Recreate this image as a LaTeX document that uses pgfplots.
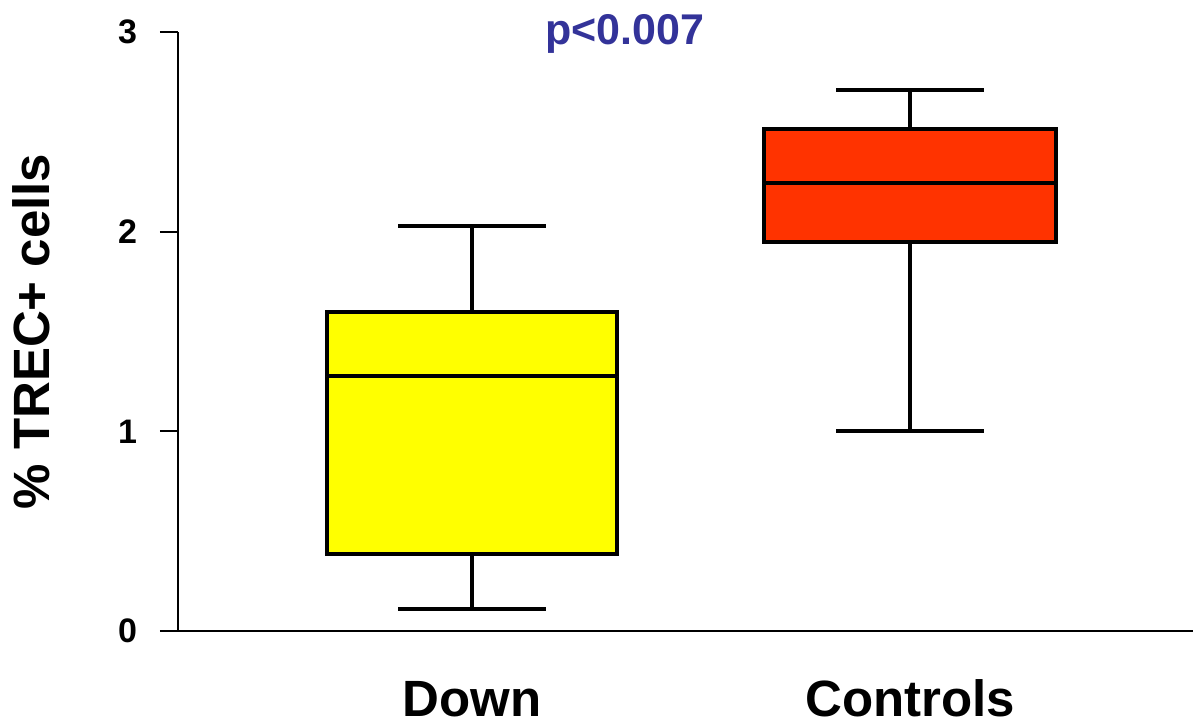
\documentclass[border=0pt]{standalone}
\usepackage{fontspec}
\setmainfont{Liberation Sans}
\usepackage{pgfplots}
\pgfplotsset{compat=1.18}
\usepgfplotslibrary{statistics}
\definecolor{downyellow}{HTML}{FFFF00}
\definecolor{ctrlred}{HTML}{FF3300}
\definecolor{pblue}{HTML}{333399}
\begin{document}
\begin{tikzpicture}
\begin{axis}[
  scale only axis,
  width=507.5pt, height=299.5pt,
  xmin=0.329, xmax=2.646,
  ymin=0, ymax=3,
  axis x line=bottom, axis y line=left,
  axis line style={line width=1pt, -},
  ytick={0,1,2,3},
  xtick={1,2},
  xticklabels={Down, Controls},
  tick align=outside,
  major tick length=9pt,
  ytick style={line width=1pt, black},
  xtick style={draw=none},
  /pgf/number format/assume math mode=true,
  yticklabel style={font=\fontsize{17}{17}\selectfont\bfseries, xshift=-8pt},
  xticklabel style={font=\fontsize{25.5}{25.5}\selectfont\bfseries, anchor=base, inner sep=0pt, yshift=-33.8pt},
  ylabel={\% TREC+ cells},
  ylabel style={font=\fontsize{25.5}{25.5}\selectfont\bfseries, at={(axis description cs:-0.145,0.5)}, anchor=center},
  boxplot/draw direction=y,
  clip=false,
]
% Down
\addplot[boxplot prepared={
    lower whisker=0.11, lower quartile=0.385, median=1.277,
    upper quartile=1.597, upper whisker=2.028,
    draw position=1, box extend=0.664, whisker extend=0.336},
  fill=downyellow, draw=black, line width=2pt] coordinates {};
% Controls
\addplot[boxplot prepared={
    lower whisker=1.0, lower quartile=1.948, median=2.243,
    upper quartile=2.514, upper whisker=2.709,
    draw position=2, box extend=0.668, whisker extend=0.336},
  fill=ctrlred, draw=black, line width=2pt] coordinates {};
\node[anchor=base, text=pblue, font=\fontsize{21.5}{21.5}\selectfont\bfseries, yshift=-6.5pt]
  at (axis description cs:0.4404,1) {p<0.007};
\coordinate (bl) at (axis description cs:0,0);
\coordinate (tr) at (axis description cs:1,1);
\end{axis}
\pgfresetboundingbox
\path ([xshift=-89pt,yshift=-48pt]bl) rectangle ([yshift=16pt]tr);
\end{tikzpicture}
\end{document}
